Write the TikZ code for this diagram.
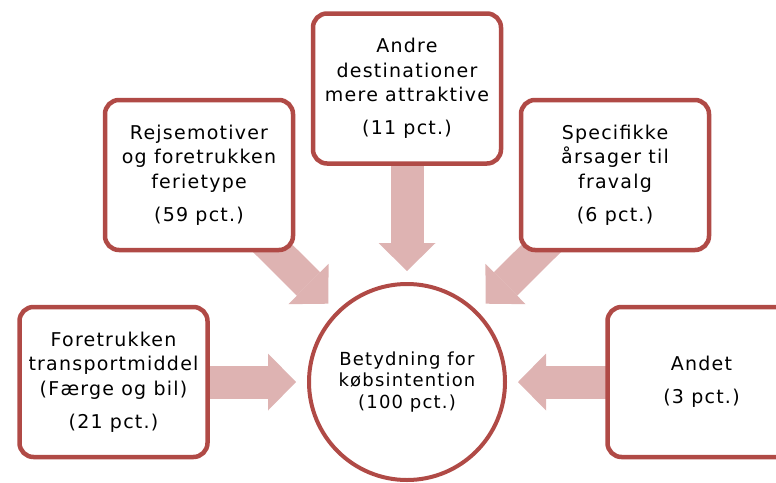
\documentclass[tikz,border=0pt]{standalone}
\usepackage{fontspec}
\setmainfont[LetterSpace=6.5]{DejaVu Sans}
\usetikzlibrary{arrows.meta,backgrounds}
\definecolor{kant}{RGB}{176,74,70}
\definecolor{pilfarve}{RGB}{222,179,178}
\tikzset{
	boks/.style={draw=kant, line width=4.5pt, rounded corners=14pt, fill=white,
		minimum width=188pt, minimum height=150pt, align=center,
		font=\fontsize{19}{24.5}\selectfont},
	midte/.style={circle, draw=kant, line width=4pt, fill=white, minimum size=196pt,
		align=center, font=\fontsize{18}{21.5}\selectfont},
	pil/.style={draw=pilfarve, line width=33pt,
		-{Triangle[length=28pt, width=57pt, line width=0pt]}, shorten >=11pt}
}
\begin{document}
\begin{tikzpicture}[x=1pt, y=-1pt]
	\useasboundingbox (0,0) rectangle (776,482);
	\clip (0,0) rectangle (776,482);

	\node[midte] (nav) at (407,382) {Betydning for\\købsintention\\(100 pct.)};%Kreis in der Mitte

	\node[boks] (venstre) at (113.5,382) {Foretrukken\\transportmiddel\\(Færge og bil)\\[8.5pt](21 pct.)};
	\node[boks] (rejse) at (199,175) {Rejsemotiver\\og foretrukken\\ferietype\\[8.5pt](59 pct.)};
	\node[boks] (andre) at (407,88.5) {Andre\\destinationer\\mere attraktive\\[8.5pt](11 pct.)};
	\node[boks] (fravalg) at (615,175) {Specifikke\\årsager til\\fravalg\\[8.5pt](6 pct.)};
	\node[boks] (andet) at (701.5,382) {Andet\\[8.5pt](3 pct.)};%rechts abgeschnitten

	\begin{scope}[on background layer]
		\draw[pil] (venstre.center) -- (nav);
		\draw[pil] (rejse.center) -- (nav);
		\draw[pil] (andre.center) -- (nav);
		\draw[pil] (fravalg.center) -- (nav);
		\draw[pil] (andet.center) -- (nav);
	\end{scope}
\end{tikzpicture}
\end{document}
